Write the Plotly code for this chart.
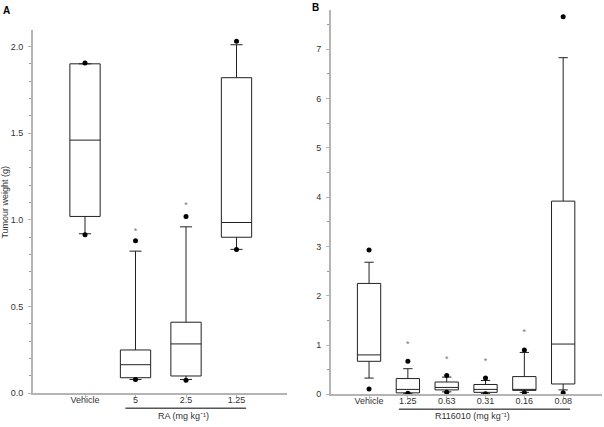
import plotly.graph_objects as go

# ---- Panel A data (RA) ----
a_cats = ["Vehicle", "5", "2.5", "1.25"]
a_q1 = [1.02, 0.09, 0.10, 0.90]
a_med = [1.46, 0.165, 0.285, 0.985]
a_q3 = [1.90, 0.25, 0.41, 1.82]
a_lo = [0.92, 0.08, 0.08, 0.83]
a_hi = [1.90, 0.82, 0.96, 2.01]
a_out_hi = [1.905, 0.88, 1.02, 2.03]
a_out_lo = [0.915, 0.08, 0.075, 0.83]
a_star_cats = ["5", "2.5"]
a_star_y = [0.93, 1.08]

# ---- Panel B data (R116010) ----
b_cats = ["Vehicle", "1.25", "0.63", "0.31", "0.16", "0.08"]
b_q1 = [0.67, 0.03, 0.09, 0.04, 0.08, 0.21]
b_med = [0.80, 0.10, 0.14, 0.10, 0.10, 1.02]
b_q3 = [2.25, 0.32, 0.25, 0.20, 0.36, 3.92]
b_lo = [0.33, 0.02, 0.05, 0.02, 0.04, 0.09]
b_hi = [2.68, 0.52, 0.35, 0.28, 0.85, 6.83]
b_out_hi = [2.93, 0.67, 0.38, 0.33, 0.90, 7.66]
b_out_lo = [0.11, 0.02, 0.04, 0.01, 0.03, 0.03]
b_star_cats = ["1.25", "0.63", "0.31", "0.16"]
b_star_y = [1.00, 0.70, 0.67, 1.25]

a_ticks = [0.0, 0.5, 1.0, 1.5, 2.0]
b_ticks = [0, 1, 2, 3, 4, 5, 6, 7]

W, H = 604, 427
LINE = "#222222"
AXC = "#b4b4b4"
TXT = "#333333"
FONT = "Liberation Sans, Arial, sans-serif"

fig = go.Figure()

def add_panel(cats, q1, med, q3, lo, hi, ohi, olo, scats, sy, xa, ya):
    fig.add_trace(go.Box(
        x=cats, q1=q1, median=med, q3=q3, lowerfence=lo, upperfence=hi,
        boxpoints=False, width=0.6, whiskerwidth=0.4,
        fillcolor="white", line=dict(color=LINE, width=1),
        xaxis=xa, yaxis=ya, showlegend=False, hoverinfo="skip"))
    fig.add_trace(go.Scatter(
        x=cats + cats, y=ohi + olo, mode="markers",
        marker=dict(color="black", size=5),
        xaxis=xa, yaxis=ya, showlegend=False, hoverinfo="skip",
        cliponaxis=False))
    fig.add_trace(go.Scatter(
        x=scats, y=sy, mode="text", text=["*"] * len(scats),
        textfont=dict(color="#777777", size=9, family=FONT),
        xaxis=xa, yaxis=ya, showlegend=False, hoverinfo="skip"))

add_panel(a_cats, a_q1, a_med, a_q3, a_lo, a_hi, a_out_hi, a_out_lo,
          a_star_cats, a_star_y, "x", "y")
add_panel(b_cats, b_q1, b_med, b_q3, b_lo, b_hi, b_out_hi, b_out_lo,
          b_star_cats, b_star_y, "x2", "y2")

def px_x(p):
    return p / W

def px_y(p):
    return 1 - p / H

axis_common = dict(showline=True, linecolor=AXC, linewidth=2, ticks="outside",
                   tickcolor=AXC, ticklen=3, tickwidth=1, showgrid=False,
                   zeroline=False, tickfont=dict(size=9, color=TXT, family=FONT))

fig.update_layout(
    width=W, height=H, margin=dict(l=0, r=0, t=0, b=0),
    paper_bgcolor="white", plot_bgcolor="white",
    font=dict(family=FONT, size=9, color=TXT),
    xaxis=dict(domain=[px_x(33), px_x(287)], type="category", range=[-1.03, 4.0],
               categoryorder="array", categoryarray=a_cats, anchor="y",
               ticklabelstandoff=-6, **axis_common),
    yaxis=dict(domain=[px_y(398), px_y(30)], range=[0, 2.097], tickvals=a_ticks,
               tickformat=".1f", anchor="x", ticklabelstandoff=3,
               minor=dict(dtick=0.1, ticks="outside", ticklen=2, tickcolor="#999999"),
               **axis_common),
    xaxis2=dict(domain=[px_x(331), px_x(602)], type="category", range=[-0.98, 6.0],
                categoryorder="array", categoryarray=b_cats, anchor="y2",
                ticklabelstandoff=-6, **axis_common),
    yaxis2=dict(domain=[px_y(399), px_y(10)], range=[0, 7.8], tickvals=b_ticks,
                anchor="x2", ticklabelstandoff=3,
                minor=dict(dtick=0.5, ticks="outside", ticklen=2, tickcolor="#999999"),
                **axis_common),
)

# y-axis title of panel A
fig.add_annotation(x=px_x(5), y=px_y(205), xref="paper", yref="paper",
                   text="Tumour weight (g)", textangle=-90, showarrow=False,
                   xanchor="center", yanchor="middle",
                   font=dict(size=9, color=TXT))

# group lines under the axes
fig.add_shape(type="line", xref="x", yref="paper", x0=0.8, x1=3.19,
              y0=px_y(413), y1=px_y(413), line=dict(color="black", width=1))
fig.add_shape(type="line", xref="x2", yref="paper", x0=0.77, x1=5.18,
              y0=px_y(414), y1=px_y(414), line=dict(color="black", width=1))

fig.add_annotation(x=1.95, y=px_y(421), xref="x", yref="paper",
                   text="RA (mg kg⁻¹)", showarrow=False,
                   font=dict(size=9, color=TXT), yanchor="middle")
fig.add_annotation(x=2.67, y=px_y(421), xref="x2", yref="paper",
                   text="R116010 (mg kg⁻¹)", showarrow=False,
                   font=dict(size=9, color=TXT), yanchor="middle")

fig.add_annotation(x=px_x(6), y=px_y(11), xref="paper", yref="paper",
                   text="<b>A</b>", showarrow=False, xanchor="center",
                   yanchor="middle", font=dict(size=10, color="black"))
fig.add_annotation(x=px_x(315), y=px_y(8), xref="paper", yref="paper",
                   text="<b>B</b>", showarrow=False, xanchor="center",
                   yanchor="middle", font=dict(size=10, color="black"))

fig.write_html("out.html", config={"displayModeBar": False},
               post_script="document.body.style.margin='0';")
